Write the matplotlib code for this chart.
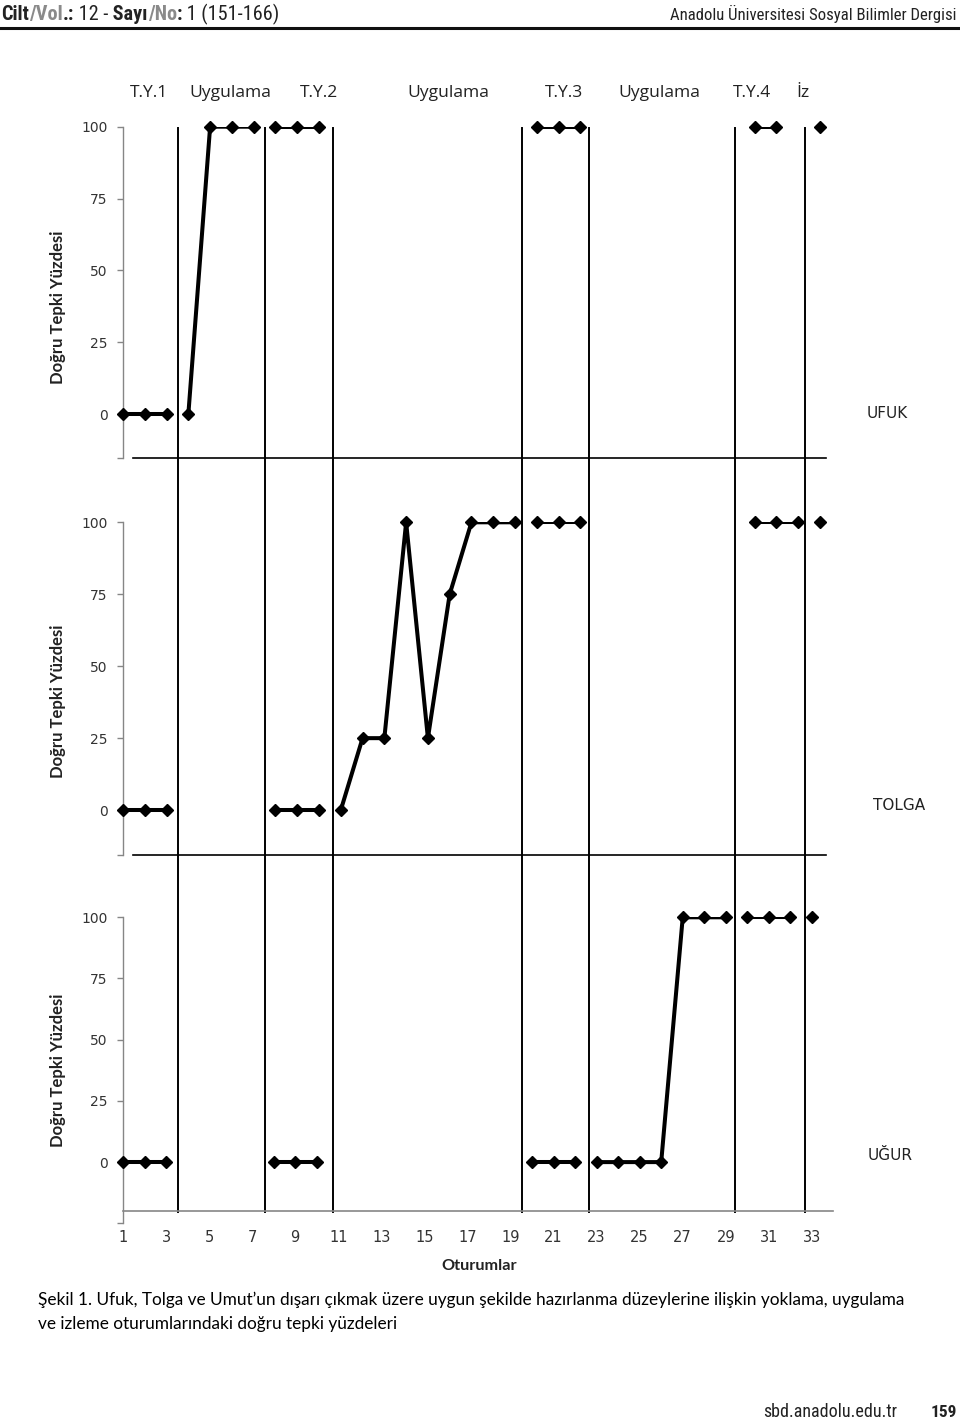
import numpy as np
import matplotlib

matplotlib.use("Agg")
import matplotlib.pyplot as plt
from matplotlib import font_manager
from matplotlib.transforms import blended_transform_factory

# sessions 1..33, NaN = no probe in that session
sessions = np.arange(1, 34)
nan = np.nan
ufuk = [0, 0, 0, 0, 100, 100, 100, 100, 100, 100,
        nan, nan, nan, nan, nan, nan, nan, nan, nan,
        100, 100, 100,
        nan, nan, nan, nan, nan, nan, nan,
        100, 100, nan, 100]
tolga = [0, 0, 0, nan, nan, nan, nan, 0, 0, 0,
         0, 25, 25, 100, 25, 75, 100, 100, 100,
         100, 100, 100,
         nan, nan, nan, nan, nan, nan, nan,
         100, 100, 100, 100]
ugur = [0, 0, 0, nan, nan, nan, nan, 0, 0, 0,
        nan, nan, nan, nan, nan, nan, nan, nan, nan,
        0, 0, 0,
        0, 0, 0, 0, 100, 100, 100,
        100, 100, 100, 100]
students = ["UFUK", "TOLGA", "UĞUR"]
series = [ufuk, tolga, ugur]

# phases (first, last session) - lines are broken between phases
phases = [(1, 3), (4, 7), (8, 10), (11, 19), (20, 22), (23, 29), (30, 32), (33, 33)]
phase_lines = [3.55, 7.6, 10.75, 19.55, 22.65, 29.45, 32.7]
phase_names = ["T.Y.1", "Uygulama", "T.Y.2", "Uygulama", "T.Y.3", "Uygulama", "T.Y.4", "İz"]
phase_name_x = [2.2, 6.0, 10.1, 16.1, 21.5, 25.9, 30.2, 32.6]
y_ticks = [0, 25, 50, 75, 100]
x_ticks = list(range(1, 34, 2))

W, H = 960, 1419
GRAY = "#868686"
DARK = "#222222"
CAL = ["Lato", "DejaVu Sans"]


def pick_narrow():
    # a condensed face for the page header/footer, if the system has one
    entries = font_manager.fontManager.ttflist
    names = {f.name for f in entries}
    for name in ["Liberation Sans Narrow", "Roboto Condensed", "Open Sans Condensed",
                 "Noto Sans Condensed", "DejaVu Sans Condensed"]:
        if name in names:
            return dict(family=name)
    for f in entries:
        if f.stretch in ("condensed", "semi-condensed") and f.name in ("DejaVu Sans", "Noto Sans",
                                                                         "Open Sans", "Roboto"):
            return dict(family=f.name, fontstretch="condensed")
    return dict(family="Lato")


NARROW = pick_narrow()

fig = plt.figure(figsize=(W / 100, H / 100), dpi=100)

overlay = fig.add_axes([0, 0, 1, 1], zorder=0)
overlay.set_xlim(0, W)
overlay.set_ylim(H, 0)
overlay.axis("off")
overlay.patch.set_visible(False)


def px_rect(left, top, right, bottom):
    return [left / W, 1 - bottom / H, (right - left) / W, (bottom - top) / H]


# panel boxes in pixels (top, bottom), y limits, x right limit
panel_boxes = [(126.7, 458.3), (522.3, 855.0), (917.3, 1223.3)]
panel_ylims = [(-15.3, 100), (-15.6, 100), (-25, 100)]
panel_xmax = [33.6, 33.6, 33.98]
label_y = [0.456, 0.461, 0.50]
name_pos = [(887, 413), (899, 806), (890, 1156)]

axes = []
for i, (vals, name) in enumerate(zip(series, students)):
    top, bottom = panel_boxes[i]
    ax = fig.add_axes(px_rect(123, top, 833, bottom), zorder=1)
    ax.patch.set_visible(False)
    ax.set_xlim(1, panel_xmax[i])
    ax.set_ylim(*panel_ylims[i])
    vals = np.array(vals, dtype=float)
    for first, last in phases:
        m = (sessions >= first) & (sessions <= last)
        ax.plot(sessions[m], vals[m], "-", color="black", lw=2.9, clip_on=True, zorder=3)
        ax.plot(sessions[m], vals[m], "D", color="black", ms=6.4, clip_on=False, zorder=4)

    for side in ["top", "right", "bottom"]:
        ax.spines[side].set_visible(False)
    ax.spines["left"].set_color(GRAY)
    ax.spines["left"].set_linewidth(1.0)
    ymin = panel_ylims[i][0]
    ax.set_yticks([ymin] + y_ticks)
    ax.set_yticklabels([""] + [str(v) for v in y_ticks])
    ax.tick_params(axis="y", direction="out", length=4.5, width=1, color=GRAY,
                   pad=6.5, labelsize=10, labelcolor="#333333")
    ax.set_ylabel("Doğru Tepki Yüzdesi", family=CAL, fontweight="bold", fontsize=12,
                  color=DARK)
    ax.yaxis.label.set_va("center")
    ax.yaxis.set_label_coords(-0.0915, label_y[i])

    if i == 2:
        ax.spines["bottom"].set_visible(True)
        ax.spines["bottom"].set_color(GRAY)
        ax.spines["bottom"].set_linewidth(1.2)
        ax.spines["bottom"].set_position(("data", -20))
        ax.set_xticks(x_ticks)
        ax.tick_params(axis="x", length=0, pad=13.5, labelsize=10.5, labelcolor="#333333")
    else:
        ax.set_xticks([])

    overlay.text(*name_pos[i], name, ha="center", va="center", fontsize=11, color=DARK)
    axes.append(ax)

ax3 = axes[2]
blend = blended_transform_factory(ax3.transData, overlay.transData)

# phase change lines running through all three panels
for xl in phase_lines:
    overlay.plot([xl, xl], [128, 1212], color="black", lw=1.4, transform=blend, clip_on=False,
                 zorder=2)
for xl, lab in zip(phase_name_x, phase_names):
    overlay.text(xl, 93, lab, transform=blend, ha="center", va="center",
                 family=["Open Sans", "DejaVu Sans"], fontsize=12.6, color=DARK)

# separators under the first two panels
for yy in (458.3, 855.0):
    overlay.plot([133, 826], [yy, yy], color="black", lw=1.2)

overlay.text(479, 1266, "Oturumlar", ha="center", va="center", family=CAL,
             fontweight="bold", fontsize=11.7, color=DARK)

# caption
overlay.text(38, 1300, "Şekil 1. Ufuk, Tolga ve Umut’un dışarı çıkmak üzere uygun şekilde "
             "hazırlanma düzeylerine ilişkin yoklama, uygulama",
             ha="left", va="center", family=CAL, fontsize=12.45, color="black")
overlay.text(38, 1324, "ve izleme oturumlarındaki doğru tepki yüzdeleri",
             ha="left", va="center", family=CAL, fontsize=12.45, color="black")

# page header
renderer = fig.canvas.get_renderer()
runs = [("Cilt", "bold", DARK), ("/Vol", "bold", "#8a8a8a"), (".:", "bold", DARK),
        (" 12 -", "normal", DARK), (" Sayı", "bold", DARK), ("/No", "bold", "#8a8a8a"),
        (":", "bold", DARK), (" 1 (151-166)", "normal", DARK)]
x = 1
for text, weight, color in runs:
    t = overlay.text(x, 20, text, ha="left", va="baseline", fontweight=weight,
                     fontsize=14.6, color=color, **NARROW)
    x += t.get_window_extent(renderer).width
overlay.text(957, 20, "Anadolu Üniversitesi Sosyal Bilimler Dergisi", ha="right",
             va="baseline", fontsize=12.1, color=DARK, **NARROW)
overlay.plot([0, W], [28, 28], color="#111111", lw=2.2)

# page footer
overlay.text(897, 1417, "sbd.anadolu.edu.tr", ha="right", va="baseline",
             fontsize=13, color=DARK, **NARROW)
overlay.text(957, 1417, "159", ha="right", va="baseline",
             fontweight="bold", fontsize=12.5, color=DARK, **NARROW)

fig.savefig("out.png", dpi=100)
